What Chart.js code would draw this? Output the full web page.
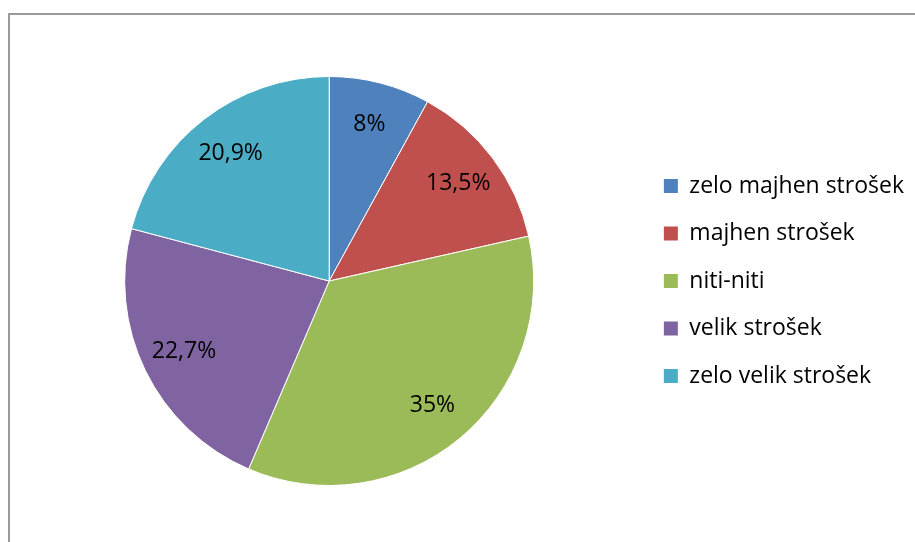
<!DOCTYPE html>
<html>
<head>
<meta charset="utf-8">
<script src="https://cdn.jsdelivr.net/npm/chart.js@4"></script>
<style>
  html, body { margin: 0; padding: 0; background: #fff; overflow: hidden; }
  #wrap { position: relative; width: 915px; height: 542px; }
  #frame { position: absolute; left: 8px; top: 13px; width: 1000px; height: 1000px; border: 2px solid #9a9a9a; box-sizing: border-box; }
  #c { position: absolute; left: 0; top: 0; }
</style>
</head>
<body>
<div id="wrap">
  <div id="frame"></div>
  <canvas id="c" width="915" height="542"></canvas>
</div>
<script>
// categories + shares (%)
const labels = ['zelo majhen strošek', 'majhen strošek', 'niti-niti', 'velik strošek', 'zelo velik strošek'];
const values = [8, 13.5, 35, 22.7, 20.9];
const colors = ['#4F81BD', '#C0504D', '#9BBB59', '#8064A2', '#4BACC6'];

const FONT = '"Open Sans", "DejaVu Sans", sans-serif';

// percent labels inside slices, Excel style (decimal comma)
const sliceLabels = {
  id: 'sliceLabels',
  afterDatasetsDraw(chart) {
    const { ctx } = chart;
    const meta = chart.getDatasetMeta(0);
    ctx.save();
    ctx.font = `23px ${FONT}`;
    ctx.fillStyle = '#000';
    ctx.textAlign = 'center';
    ctx.textBaseline = 'middle';
    meta.data.forEach((arc, i) => {
      const { x, y, startAngle, endAngle, outerRadius } = arc.getProps(['x', 'y', 'startAngle', 'endAngle', 'outerRadius'], true);
      const mid = (startAngle + endAngle) / 2;
      const r = outerRadius * 0.79;
      const txt = String(values[i]).replace('.', ',') + '%';
      ctx.fillText(txt, x + Math.cos(mid) * r, y + Math.sin(mid) * r);
    });
    ctx.restore();
  },
};

new Chart(document.getElementById('c'), {
  type: 'pie',
  data: {
    labels,
    datasets: [{ data: values, backgroundColor: colors, borderColor: '#fff', borderWidth: 1 }],
  },
  options: {
    responsive: false,
    animation: false,
    layout: { padding: { left: 19, right: 1, top: 76, bottom: 56 } },
    plugins: {
      tooltip: { enabled: false },
      legend: {
        position: 'right',
        labels: {
          color: '#000',
          font: { family: FONT, size: 23 },
          boxWidth: 14,
          boxHeight: 14,
          padding: 24.5,
          generateLabels: (chart) =>
            Chart.overrides.pie.plugins.legend.labels.generateLabels(chart).map((l) => ({ ...l, lineWidth: 0 })),
        },
      },
    },
  },
  plugins: [sliceLabels],
});
</script>
</body>
</html>
